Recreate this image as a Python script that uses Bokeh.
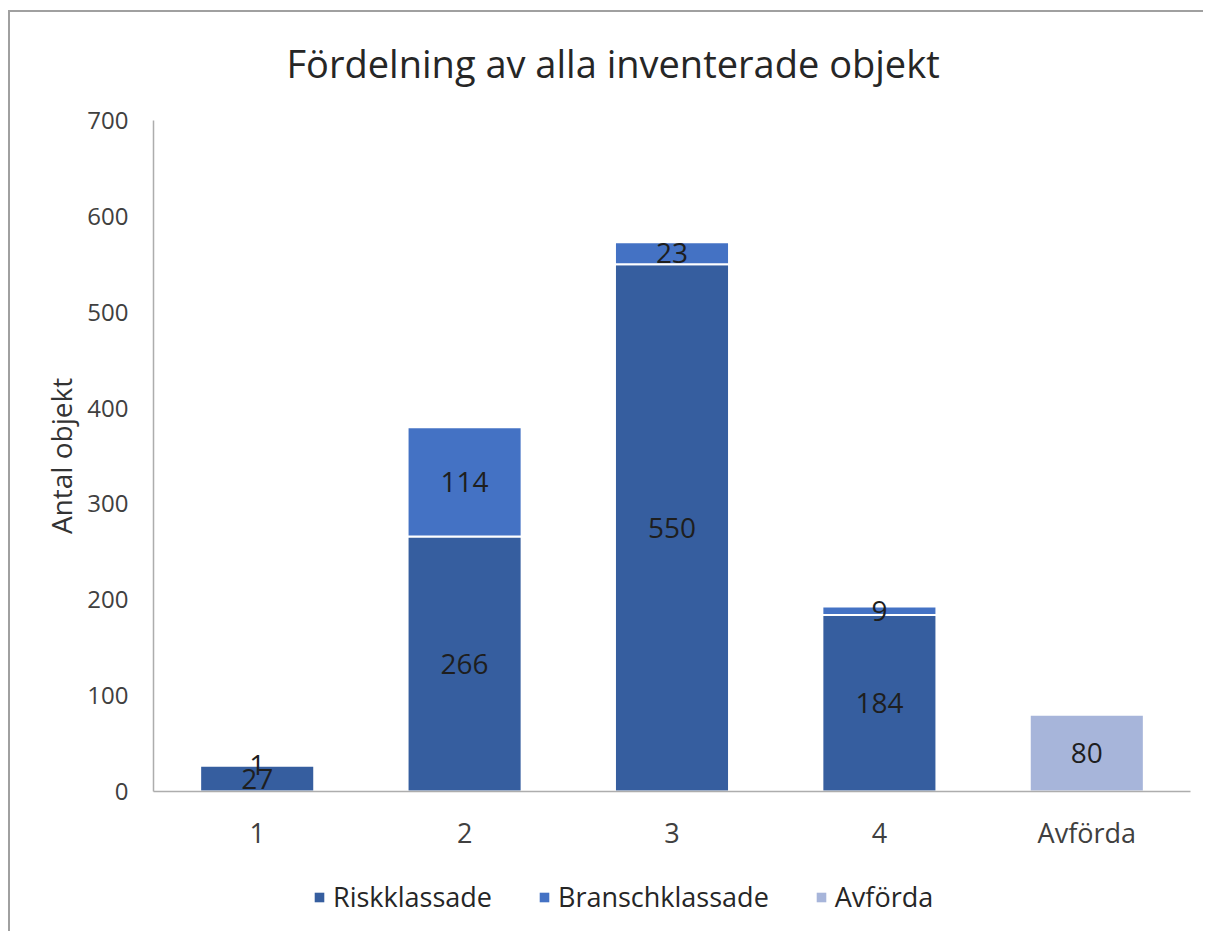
from bokeh.plotting import figure
from bokeh.layouts import column
from bokeh.models import (ColumnDataSource, FactorRange, Range1d, FixedTicker,
                          LabelSet, Legend, LegendItem)
from bokeh.core.properties import value
from bokeh.embed import file_html
from bokeh.resources import INLINE

categories = ["1", "2", "3", "4", "Avförda"]
riskklassade = [27, 266, 550, 184, 0]
branschklassade = [1, 114, 23, 9, 0]
avforda = [0, 0, 0, 0, 80]
y_ticks = [0, 100, 200, 300, 400, 500, 600, 700]

series_names = ["Riskklassade", "Branschklassade", "Avförda"]
colors = ["#365E9F", "#4472C4", "#A7B5DA"]
FONT = "Open Sans"

p = figure(width=1195, height=859, x_range=FactorRange(*categories, range_padding=0),
           y_range=Range1d(0, 700), output_backend="svg", toolbar_location=None,
           min_border_left=145, min_border_right=13, min_border_top=118,
           min_border_bottom=70)
p.border_fill_alpha = 0
p.outline_line_color = None
p.xgrid.grid_line_color = None
p.ygrid.grid_line_color = None

# stacked segments
all_series = [riskklassade, branschklassade, avforda]
label_x, label_y, label_t = [], [], []
base = [0] * len(categories)
for name, vals, col in zip(series_names, all_series, colors):
    xs, bots, tops = [], [], []
    for i, c in enumerate(categories):
        v = vals[i]
        if v > 0:
            xs.append(c)
            bots.append(base[i])
            tops.append(base[i] + v)
            label_x.append(c)
            label_y.append(base[i] + v / 2)
            label_t.append(str(v))
        base[i] += v
    src = ColumnDataSource(dict(x=xs, bottom=bots, top=tops))
    p.vbar(x="x", bottom="bottom", top="top", width=0.55, source=src,
           fill_color=col, line_color="white", line_width=2)

lsrc = ColumnDataSource(dict(x=label_x, y=label_y, t=label_t))
p.add_layout(LabelSet(x="x", y="y", text="t", source=lsrc, text_align="center",
                      text_baseline="middle", text_font=value(FONT),
                      text_font_size="28px", text_color="#1E1E1E"))

# axes
p.yaxis.ticker = FixedTicker(ticks=y_ticks)
for ax in (p.xaxis[0], p.yaxis[0]):
    ax.major_tick_line_color = None
    ax.minor_tick_line_color = None
    ax.axis_line_color = "#ADADAD"
    ax.axis_line_width = 1.5
    ax.major_label_text_font = FONT
    ax.major_label_text_color = "#404040"
p.xaxis.major_label_text_font_size = "27px"
p.xaxis.major_label_standoff = 16
p.yaxis.major_label_text_font_size = "24px"
p.yaxis.major_label_standoff = 19
p.yaxis.axis_label = "Antal objekt"
p.yaxis.axis_label_text_font = FONT
p.yaxis.axis_label_text_font_size = "28px"
p.yaxis.axis_label_text_font_style = "normal"
p.yaxis.axis_label_text_color = "#333333"
p.yaxis.axis_label_standoff = 4

# title
p.title.text = "Fördelning av alla inventerade objekt"
p.title.text_font = FONT
p.title.text_font_size = "38px"
p.title.text_font_style = "normal"
p.title.text_color = "#262626"
p.title.align = "left"
p.title.offset = 133
p.title.standoff = 64

# legend strip below the chart (proxy renderers of zero size carry the colours)
lg = figure(width=1195, height=70, output_backend="svg", toolbar_location=None,
            x_axis_location=None, y_axis_location=None,
            min_border=0, x_range=Range1d(0, 1), y_range=Range1d(0, 1))
lg.border_fill_alpha = 0
lg.background_fill_alpha = 0
lg.outline_line_color = None
lg.xgrid.grid_line_color = None
lg.ygrid.grid_line_color = None
items = []
for name, col in zip(series_names, colors):
    proxy = ColumnDataSource(dict(x=[0], top=[0]))
    r = lg.vbar(x="x", top="top", bottom=0, width=0, source=proxy,
                fill_color=col, line_alpha=0)
    items.append(LegendItem(label=name, renderers=[r]))
legend = Legend(items=items, orientation="horizontal", location=(160, 16),
                label_text_font=FONT, label_text_font_size="27px",
                label_text_color="#262626", glyph_width=12, glyph_height=12,
                spacing=46, label_standoff=8, padding=0, margin=0,
                border_line_color=None, background_fill_alpha=0)
lg.add_layout(legend, "center")

layout = column(p, lg, spacing=0)
layout.styles = {
    "margin-left": "8px", "margin-top": "2px",
    "background": ("linear-gradient(#A0A0A0, #A0A0A0) 0 8px / 100% 2px no-repeat, "
                   "linear-gradient(#A0A0A0, #A0A0A0) 0 8px / 2px 100% no-repeat"),
}

open("out.html", "w").write(file_html(layout, INLINE))
